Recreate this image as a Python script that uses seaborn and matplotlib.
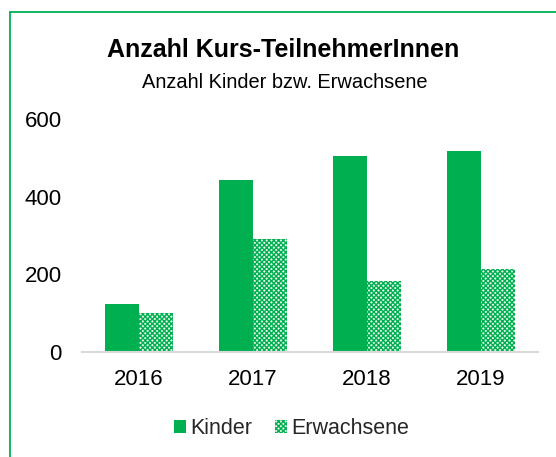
import matplotlib
matplotlib.use("Agg")
import matplotlib.pyplot as plt
import seaborn as sns
import pandas as pd
from matplotlib.lines import Line2D
from matplotlib.patches import Patch

years = ["2016", "2017", "2018", "2019"]
kinder = [123, 443, 505, 518]
erwachsene = [100, 291, 183, 215]
series = ["Kinder", "Erwachsene"]

df = pd.DataFrame({
    "Jahr": years * 2,
    "Wert": kinder + erwachsene,
    "Serie": [series[0]] * 4 + [series[1]] * 4,
})

sns.set_theme(style="white")
plt.rcParams["font.family"] = ["Liberation Sans", "DejaVu Sans"]
plt.rcParams["hatch.linewidth"] = 1.0

green = "#00B050"
HATCH = "xxxxxxx"
fig = plt.figure(figsize=(5.56, 4.57), dpi=100)
ax = fig.add_axes([82/556, 1-352/457, (538-82)/556, (352-119)/457])

sns.barplot(data=df, x="Jahr", y="Wert", hue="Serie", ax=ax,
            palette=[green, green], width=0.59, gap=0, legend=False,
            saturation=1)

n = len(years)
for i, p in enumerate(ax.patches[:2*n]):
    if i >= n:
        p.set_facecolor("#E6F6EC")
        p.set_edgecolor(green)
        p.set_hatch(HATCH)
        p.set_linewidth(0)
    else:
        p.set_linewidth(0)

ax.set_ylim(0, 600)
ax.set_yticks([0, 200, 400, 600])
ax.set_xlabel("")
ax.set_ylabel("")
for s in ["top", "right", "left"]:
    ax.spines[s].set_visible(False)
ax.spines["bottom"].set_color("#D9D9D9")
ax.spines["bottom"].set_linewidth(1.5)
ax.tick_params(axis="y", length=0, pad=14.4, labelsize=16, labelcolor="black")
ax.tick_params(axis="x", length=0, pad=12.5, labelsize=16, labelcolor="black")
ax.grid(False)

fig.text(0.51, 1-50/457, "Anzahl Kurs-TeilnehmerInnen", ha="center", va="center",
         fontsize=18, fontweight="bold", color="black")
fig.text(0.512, 1-82/457, "Anzahl Kinder bzw. Erwachsene", ha="center", va="center",
         fontsize=14.4, color="black")

handles = [Patch(facecolor=green, edgecolor=green, linewidth=0),
           Patch(facecolor="#E6F6EC", edgecolor=green, hatch=HATCH, linewidth=0)]
fig.legend(handles, series, loc="center", bbox_to_anchor=(0.524, 1-429/457),
           ncol=2, frameon=False, fontsize=15.5, handlelength=0.56, handleheight=0.56,
           handletextpad=0.2, columnspacing=1.05)

fig.add_artist(Line2D([9.5/556, 9.5/556], [0, 1-11.5/457], transform=fig.transFigure,
                      color=green, linewidth=1.3))
fig.add_artist(Line2D([9.5/556, 1], [1-11.5/457, 1-11.5/457], transform=fig.transFigure,
                      color=green, linewidth=1.3))

fig.savefig("out.png", dpi=100)
